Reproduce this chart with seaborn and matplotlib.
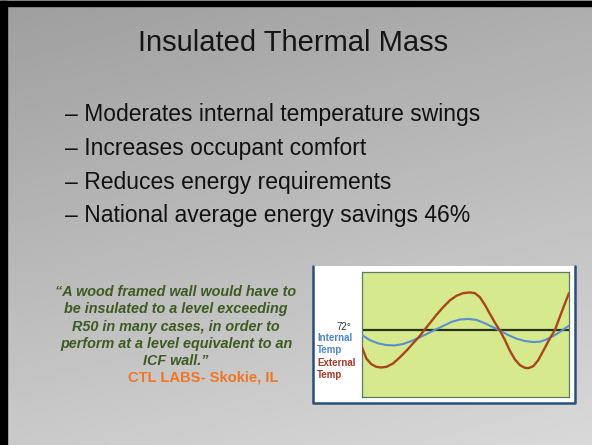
import numpy as np
import pandas as pd
import seaborn as sns
import matplotlib
matplotlib.use("Agg")
import matplotlib.pyplot as plt
from matplotlib.patches import Rectangle
from matplotlib.lines import Line2D

# slide text
title = "Insulated Thermal Mass"
bullets = [
    "\u2013 Moderates internal temperature swings",
    "\u2013 Increases occupant comfort",
    "\u2013 Reduces energy requirements",
    "\u2013 National average energy savings 46%",
]
quote_lines = [
    "\u201cA wood framed wall would have to",
    "be insulated to a level exceeding",
    "R50 in many cases, in order to",
    "perform at a level equivalent to an",
    "ICF wall.\u201d",
]
source = "CTL LABS- Skokie, IL"

# inset chart: temperature over a day
setpoint = 72
ext_hour = [0.00, 0.50, 1.08, 1.66, 2.25, 2.83, 3.60, 4.37, 5.15, 5.92, 6.70, 7.16, 7.86,
            8.63, 9.41, 10.18, 10.95, 11.73, 12.50, 13.08, 13.66, 14.25, 14.83, 15.41,
            15.99, 16.57, 17.15, 17.73, 18.31, 18.89, 19.28, 19.86, 20.44, 21.02, 21.79,
            22.37, 22.95, 23.54, 24.00]
ext_temp = [66.8, 63.5, 61.8, 61.0, 60.8, 61.0, 62.0, 63.8, 65.8, 68.0, 70.2, 71.8, 74.0,
            76.5, 78.8, 80.8, 82.2, 83.0, 83.2, 83.0, 81.8, 79.5, 76.8, 74.2,
            71.8, 69.0, 65.8, 63.2, 61.5, 60.7, 60.6, 61.2, 63.0, 65.8, 69.5,
            72.0, 76.0, 80.0, 83.0]
int_hour = [0.00, 0.89, 1.86, 2.83, 3.79, 4.76, 5.73, 6.70, 7.66, 8.44, 9.41, 10.37, 11.34,
            12.31, 13.28, 14.25, 15.21, 15.99, 16.95, 17.92, 18.89, 19.86, 20.63, 21.41,
            22.18, 22.95, 23.54, 24.00]
int_temp = [70.5, 69.0, 68.0, 67.5, 67.4, 67.8, 68.7, 69.8, 71.0, 72.0, 73.2, 74.4, 75.1,
            75.3, 75.0, 74.0, 72.8, 71.8, 70.5, 69.4, 68.7, 68.4, 68.5, 69.2,
            70.2, 71.4, 72.5, 73.3]

ext_df = pd.DataFrame({"hour": ext_hour, "temp": ext_temp})
int_df = pd.DataFrame({"hour": int_hour, "temp": int_temp})

sns.set_theme(style="white")
plt.rcParams["font.family"] = ["Liberation Sans", "DejaVu Sans"]

W, H = 592, 445
fig = plt.figure(figsize=(W / 100, H / 100), dpi=100)

def fx(px):
    return px / W

def fy(py):
    return 1 - py / H

# grey stone background, darker top-left, lighter bottom-right
bg = fig.add_axes([0, 0, 1, 1])
gy = np.linspace(0, 1, 200)
gx = np.linspace(0, 1, 200)
shade = 0.62 + 0.17 * gy[:, None] + 0.06 * gx[None, :]
bg.imshow(shade, cmap="gray", vmin=0, vmax=1, aspect="auto", extent=[0, 1, 0, 1], origin="upper")
bg.set_xlim(0, 1)
bg.set_ylim(0, 1)
bg.axis("off")

# black slide frame on top and left
fig.patches.append(Rectangle((0, fy(6)), 1, 5 / H, transform=fig.transFigure, color="black", zorder=1))
fig.patches.append(Rectangle((0, 0), fx(7), fy(1), transform=fig.transFigure, color="black", zorder=1))

fig.text(fx(293), fy(43), title, ha="center", va="center", fontsize=21, color="#151515")
for i, line in enumerate(bullets):
    fig.text(fx(65), fy(115 + 33.5 * i), line, ha="left", va="center", fontsize=16.5, color="#111111")

for i, line in enumerate(quote_lines):
    fig.text(fx(176), fy(292 + 17.3 * i), line, ha="center", va="center", fontsize=10.4,
             fontweight="bold", fontstyle="italic", color="#3e5a22")
fig.text(fx(203), fy(378), source, ha="center", va="center", fontsize=10.6,
         fontweight="bold", color="#f07522")

# white panel behind the inset chart, blue edge on left, bottom and right only
fig.patches.append(Rectangle((fx(313), fy(403)), fx(575) - fx(313), fy(266) - fy(403),
                             transform=fig.transFigure, facecolor="white",
                             edgecolor="none", zorder=2))
fig.lines.append(Line2D([fx(313), fx(313), fx(575), fx(575)], [fy(266), fy(402.5), fy(402.5), fy(266)],
                        transform=fig.transFigure, color="#2a4f78", linewidth=1.8, zorder=2.5))

fig.text(fx(351), fy(327), "72\u00b0", ha="right", va="center", fontsize=7, color="#333333", zorder=3)
fig.text(fx(317), fy(338), "Internal", ha="left", va="center", fontsize=7, fontweight="bold", color="#4f86c6", zorder=3)
fig.text(fx(317), fy(350), "Temp", ha="left", va="center", fontsize=7, fontweight="bold", color="#4f86c6", zorder=3)
fig.text(fx(317), fy(363), "External", ha="left", va="center", fontsize=7, fontweight="bold", color="#a23a28", zorder=3)
fig.text(fx(317), fy(375), "Temp", ha="left", va="center", fontsize=7, fontweight="bold", color="#a23a28", zorder=3)

ax = fig.add_axes([fx(362), fy(397), fx(569) - fx(362), fy(272) - fy(397)])
ax.set_zorder(5)
ax.set_facecolor("#d6ea8d")
ax.axhline(setpoint, color="#263318", linewidth=1.6, zorder=2)
sns.lineplot(data=int_df, x="hour", y="temp", sort=False, estimator=None, ax=ax,
             color="#5b8fcf", linewidth=1.5, zorder=3)
sns.lineplot(data=ext_df, x="hour", y="temp", sort=False, estimator=None, ax=ax,
             color="#a8451c", linewidth=1.7, zorder=4)
ax.set_xlim(0, 24)
ax.set_ylim(52, 89.3)
ax.set_xticks([])
ax.set_yticks([])
ax.set_xlabel("")
ax.set_ylabel("")
for sp in ax.spines.values():
    sp.set_color("#5d7a6c")
    sp.set_linewidth(0.9)

fig.savefig("out.png", dpi=100)
